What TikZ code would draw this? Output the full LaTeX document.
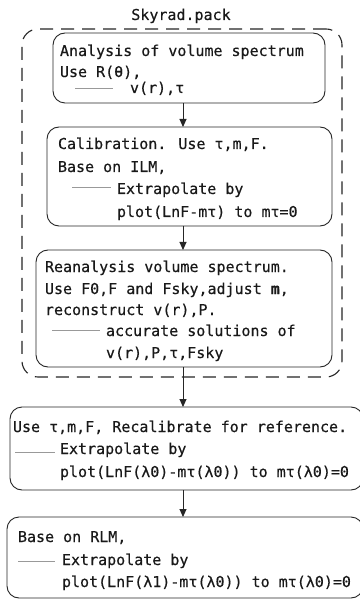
\documentclass[tikz,border=0pt]{standalone}
\usepackage{fontspec}
\newfontfamily\dmono[FakeBold=0.4]{DejaVu Sans Mono}
\usetikzlibrary{arrows.meta}
\begin{document}
\begin{tikzpicture}[x=1pt,y=-1pt,
  every node/.style={inner sep=0pt, outer sep=0pt},
  box/.style={draw=black!85, line width=0.9pt, rounded corners=12pt, rectangle},
  frame/.style={draw=black!85, line width=1.1pt, rounded corners=16pt, dash pattern=on 13pt off 8pt, rectangle},
  txt/.style={anchor=base west, font=\dmono\fontsize{15}{18}\selectfont, text=black!90},
  ttl/.style={anchor=base, font=\dmono\fontsize{15}{18}\selectfont, text=black!90},
  rule/.style={draw=black!40, line width=0.6pt},
  arr/.style={draw=black!85, line width=0.9pt, -{Triangle[length=8pt,width=7pt]}}]
\useasboundingbox (0,0) rectangle (359,601);
\fill[white] (0,0) rectangle (359,601);

\node[ttl] (title) at (181,20) {Skyrad.pack};
\node[frame, minimum width=320pt, minimum height=348pt] (frame) at (182,203) {};

\node[box, minimum width=272pt, minimum height=70pt] (b1) at (189,68) {};
\node[box, minimum width=285pt, minimum height=99pt] (b2) at (189.5,176.5) {};
\node[box, minimum width=296pt, minimum height=117pt] (b3) at (184,308.5) {};
\node[box, minimum width=353pt, minimum height=83pt] (b4) at (186.5,448.5) {};
\node[box, minimum width=356pt, minimum height=81pt] (b5) at (185,557.5) {};

% box 1
\node[txt] (t1a) at (60,56) {Analysis of volume spectrum};
\node[txt] (t1b) at (60,77) {Use R(θ),};
\coordinate (r1a) at (75,88); \coordinate (r1b) at (113,88);
\draw[rule] (r1a) -- (r1b);
\node[txt] (t1c) at (130,93) {v(r),τ};

% box 2
\node[txt] (t2a) at (58,149) {Calibration. Use τ,m,F.};
\node[txt] (t2b) at (58,172) {Base on ILM,};
\coordinate (r2a) at (72,187); \coordinate (r2b) at (111,187);
\draw[rule] (r2a) -- (r2b);
\node[txt] (t2c) at (117,194) {Extrapolate by};
\node[txt] (t2d) at (117,217) {plot(LnF-mτ) to mτ=0};

% box 3
\node[txt] (t3a) at (45,272) {Reanalysis volume spectrum.};
\node[txt] (t3b) at (45,294) {Use F0,F and Fsky,adjust \textbf{m},};
\node[txt] (t3c) at (45,315) {reconstruct v(r),P.};
\coordinate (r3a) at (52,330); \coordinate (r3b) at (100,330);
\draw[rule] (r3a) -- (r3b);
\node[txt] (t3d) at (106,336) {accurate solutions of};
\node[txt] (t3e) at (106,358) {v(r),P,τ,Fsky};

% box 4
\node[txt] (t4a) at (13,432) {Use τ,m,F, Recalibrate for reference.};
\coordinate (r4a) at (15,452); \coordinate (r4b) at (55,452);
\draw[rule] (r4a) -- (r4b);
\node[txt] (t4b) at (60,454) {Extrapolate by};
\node[txt] (t4c) at (60,477) {plot(LnF(λ0)-mτ(λ0)) to mτ(λ0)=0};

% box 5
\node[txt] (t5a) at (18,542) {Base on RLM,};
\coordinate (r5a) at (18,561); \coordinate (r5b) at (55,561);
\draw[rule] (r5a) -- (r5b);
\node[txt] (t5b) at (62,565) {Extrapolate by};
\node[txt] (t5c) at (62,587) {plot(LnF(λ1)-mτ(λ0)) to mτ(λ0)=0};

% arrows
\coordinate (ax) at (183,0);
\draw[arr] (b1.south -| ax) -- (b2.north -| ax);
\draw[arr] (b2.south -| ax) -- (b3.north -| ax);
\draw[arr] (b3.south -| ax) -- (b4.north -| ax);
\draw[arr] (b4.south -| ax) -- (b5.north -| ax);
\end{tikzpicture}
\end{document}
